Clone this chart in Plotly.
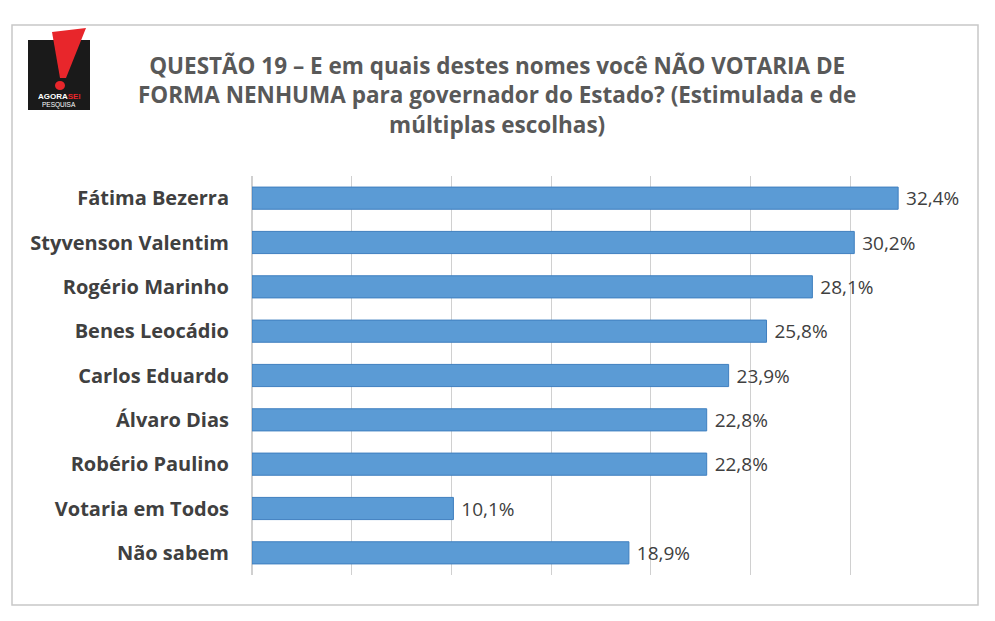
import plotly.graph_objects as go

categories = ["Fátima Bezerra", "Styvenson Valentim", "Rogério Marinho", "Benes Leocádio",
              "Carlos Eduardo", "Álvaro Dias", "Robério Paulino", "Votaria em Todos", "Não sabem"]
values = [32.4, 30.2, 28.1, 25.8, 23.9, 22.8, 22.8, 10.1, 18.9]
labels = [" " + f"{v:.1f}%".replace(".", ",") for v in values]

W, H = 995, 621
OFF = 8
L, R, T, B = 252 - OFF, 950 - OFF, 176 - OFF, 575 - OFF
def px(x): return (x - OFF - L) / (R - L)
def py(y): return (B - (y - OFF)) / (B - T)

fig = go.Figure(go.Bar(
    y=categories, x=values, orientation="h", text=labels, textposition="outside",
    constraintext="none",
    marker=dict(color="#5B9BD5", line=dict(color="#3F7FBF", width=1)),
    textfont=dict(size=19, color="#404040", family="Open Sans"), cliponaxis=False,
    width=0.5,
))
fig.update_layout(
    width=W, height=H, paper_bgcolor="white", plot_bgcolor="white",
    margin=dict(l=L, r=W - R, t=T, b=H - B),
    showlegend=False, font=dict(family="Open Sans", color="#404040"),
    xaxis=dict(range=[0, 35], dtick=5, showgrid=True, gridcolor="#D0D0D0", gridwidth=1,
               showticklabels=False, zeroline=True, zerolinecolor="#D0D0D0", fixedrange=True),
    yaxis=dict(autorange="reversed", ticks="", ticklabelstandoff=22,
               tickvals=categories, ticktext=[f"<b>{c}</b>" for c in categories],
               tickfont=dict(size=20, color="#404040", family="Open Sans"), showline=False),
)

fig.add_annotation(xref="paper", yref="paper", x=px(497), y=py(95), showarrow=False,
                   xanchor="center", yanchor="middle",
                   text="<b>QUESTÃO 19 – E em quais destes nomes você NÃO VOTARIA DE<br>"
                        "FORMA NENHUMA para governador do Estado? (Estimulada e de<br>"
                        "múltiplas escolhas)</b>",
                   font=dict(size=22.5, color="#595959", family="Open Sans"), align="center")
fig.add_shape(type="rect", xref="paper", yref="paper", x0=px(12), x1=px(978), y0=py(25), y1=py(605),
              line=dict(color="#C8C8C8", width=1.5), layer="below")
# logo
fig.add_shape(type="rect", xref="paper", yref="paper", x0=px(28), x1=px(90), y0=py(40), y1=py(110),
              fillcolor="#1A1A1A", line=dict(width=0))
fig.add_shape(type="path", xref="paper", yref="paper",
              path=f"M {px(52)} {py(32)} L {px(86)} {py(28)} L {px(66)} {py(78)} L {px(60)} {py(78)} Z",
              fillcolor="#E8262B", line=dict(width=0))
fig.add_shape(type="circle", xref="paper", yref="paper", x0=px(55), x1=px(65), y0=py(81), y1=py(90),
              fillcolor="#E8262B", line=dict(width=0))
fig.add_annotation(xref="paper", yref="paper", x=px(59), y=py(96), showarrow=False,
                   xanchor="center", yanchor="middle", height=9,
                   text="<b>AGORA<span style='color:#E8262B'>SEI</span></b>",
                   font=dict(size=8, color="white", family="Liberation Sans"))
fig.add_annotation(xref="paper", yref="paper", x=px(59), y=py(105), showarrow=False,
                   xanchor="center", yanchor="middle", height=8,
                   text="PESQUISA", font=dict(size=6.5, color="white", family="Liberation Sans"))
fig.write_html("out.html")
